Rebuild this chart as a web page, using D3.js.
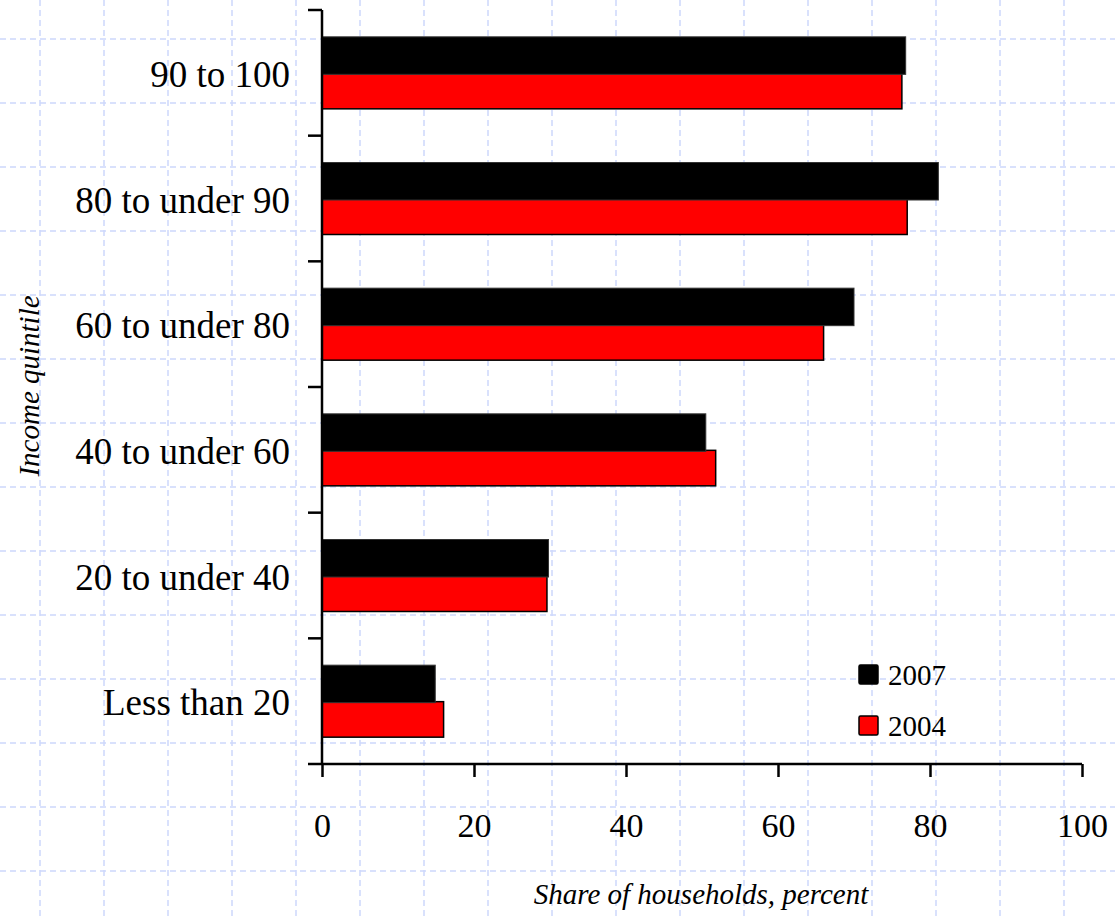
<!DOCTYPE html>
<html>
<head>
<meta charset="utf-8">
<script src="https://cdn.jsdelivr.net/npm/d3@7"></script>
<style>
  body { margin: 0; background: #fff; }
  svg text { font-family: "Liberation Serif", "DejaVu Serif", serif; fill: #000; }
</style>
</head>
<body>
<div id="chart"></div>
<script>
// categories, bottom to top like the picture
const quintiles = ["Less than 20", "20 to under 40", "40 to under 60", "60 to under 80", "80 to under 90", "90 to 100"];
const share2007 = [14.9, 29.8, 50.5, 70.0, 81.1, 76.8];
const share2004 = [16.0, 29.6, 51.8, 66.0, 77.0, 76.3];
const xTicks = [0, 20, 40, 60, 80, 100];
const years = ["2007", "2004"];

const W = 1115, H = 919;
const mLeft = 322, mRight = 1082, mTop = 10, mBottom = 764;

const svg = d3.select("#chart").append("svg")
    .attr("width", W)
    .attr("height", H);

// background dashed grid (page paper)
const grid = svg.append("g")
    .attr("stroke", "#cdd8fb")
    .attr("stroke-width", 1.5)
    .attr("stroke-dasharray", "6,4");
d3.range(40, W, 64).forEach(gx => {
    grid.append("line").attr("x1", gx).attr("x2", gx).attr("y1", 0).attr("y2", H);
});
d3.range(39, H, 64).forEach(gy => {
    grid.append("line").attr("x1", 0).attr("x2", W).attr("y1", gy).attr("y2", gy);
});

const x = d3.scaleLinear().domain([0, 100]).range([mLeft, mRight]);
const y = d3.scaleBand().domain(quintiles.slice().reverse()).range([mTop, mBottom]);

const barH = 36.5;
const groupOff = (y.bandwidth() - 2 * barH) / 2 + 0.5;

// bars
const bars = svg.append("g");
quintiles.forEach((q, i) => {
    const y0 = y(q) + groupOff;
    bars.append("rect")
        .attr("x", x(0))
        .attr("y", y0 + barH)
        .attr("width", x(share2004[i]) - x(0))
        .attr("height", barH - 1)
        .attr("fill", "#ff0000")
        .attr("stroke", "#000")
        .attr("stroke-width", 1.5);
    bars.append("rect")
        .attr("x", x(0))
        .attr("y", y0)
        .attr("width", x(share2007[i]) - x(0))
        .attr("height", barH + 1)
        .attr("fill", "#000")
        .attr("stroke", "#333")
        .attr("stroke-width", 1);
});

// x axis
const xAxis = svg.append("g")
    .attr("transform", "translate(0," + mBottom + ")")
    .call(d3.axisBottom(x).tickValues(xTicks).tickSize(13).tickPadding(36).tickSizeOuter(0));
xAxis.select(".domain").attr("d", "M" + (mLeft - 14) + ",0H" + mRight).attr("stroke-width", 2.5);
xAxis.selectAll(".tick line").attr("stroke-width", 2.5);
xAxis.selectAll(".tick text")
    .attr("font-size", 34)
    .attr("font-family", "Liberation Serif");

// y axis, ticks at band edges
const yAxis = svg.append("g")
    .attr("transform", "translate(" + mLeft + ",0)");
yAxis.append("line")
    .attr("x1", 0).attr("x2", 0)
    .attr("y1", mTop).attr("y2", mBottom)
    .attr("stroke", "#000").attr("stroke-width", 2.5);
const edges = quintiles.slice().reverse().map(q => y(q));
edges.forEach(e => {
    yAxis.append("line")
        .attr("x1", -14).attr("x2", 0)
        .attr("y1", e).attr("y2", e)
        .attr("stroke", "#000").attr("stroke-width", 2.5);
});
quintiles.forEach(q => {
    yAxis.append("text")
        .attr("x", -32)
        .attr("y", y(q) + y.bandwidth() / 2 + 14)
        .attr("text-anchor", "end")
        .attr("font-size", 37)
        .text(q);
});

// axis titles
svg.append("text")
    .attr("transform", "translate(39,386) rotate(-90)")
    .attr("text-anchor", "middle")
    .attr("font-size", 29)
    .attr("font-style", "italic")
    .text("Income quintile");

svg.append("text")
    .attr("x", 701)
    .attr("y", 904)
    .attr("text-anchor", "middle")
    .attr("font-size", 29)
    .attr("font-style", "italic")
    .text("Share of households, percent");

// legend
const legColors = ["#000", "#ff0000"];
const legend = svg.append("g").attr("transform", "translate(859,665)");
years.forEach((yr, i) => {
    legend.append("rect")
        .attr("x", 0)
        .attr("y", i * 51)
        .attr("width", 19)
        .attr("height", 19)
        .attr("rx", 1.5)
        .attr("fill", legColors[i])
        .attr("stroke", "#000")
        .attr("stroke-width", 1.5);
    legend.append("text")
        .attr("x", 29)
        .attr("y", i * 51 + 20)
        .attr("font-size", 29)
        .text(yr);
});
</script>
</body>
</html>
